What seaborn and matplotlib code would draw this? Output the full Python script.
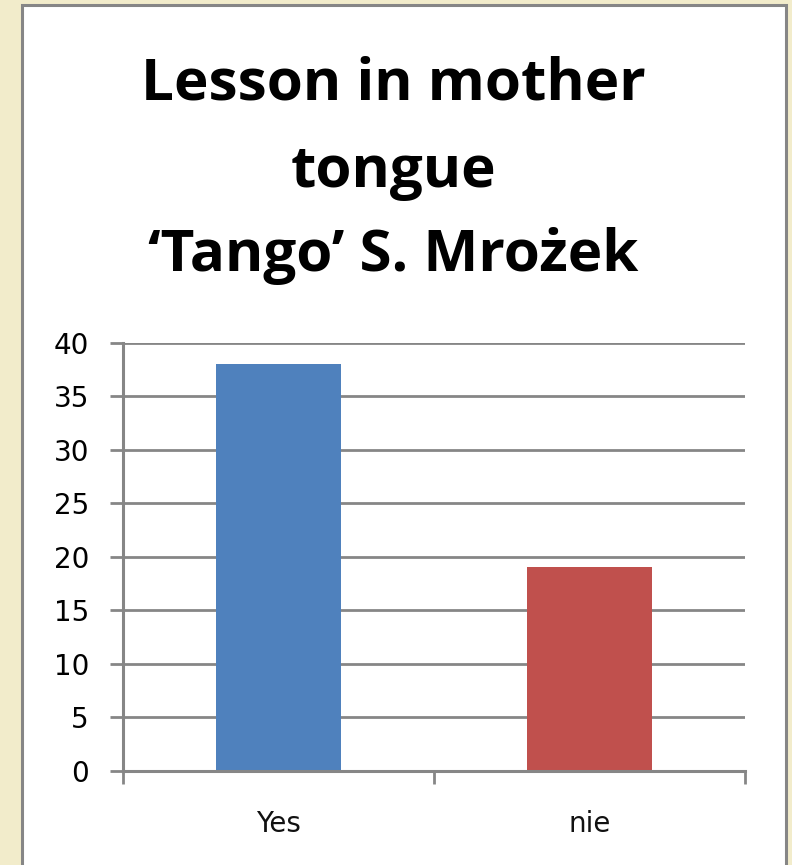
import seaborn as sns
import pandas as pd
import matplotlib.pyplot as plt
from matplotlib.patches import Rectangle

# data
answers = ['Yes', 'nie']
counts = [38, 19]
bar_colors = ['#4F81BD', '#C0504D']
title_lines = ['Lesson in mother', 'tongue', '\u2018Tango\u2019 S. Mro\u017cek']
y_ticks = [0, 5, 10, 15, 20, 25, 30, 35, 40]

df = pd.DataFrame({'answer': answers, 'count': counts})

sns.set_theme(style='white')
plt.rcParams['font.family'] = ['DejaVu Sans']

grey = '#868686'
fig = plt.figure(figsize=(7.92, 8.65), dpi=100)
fig.patch.set_facecolor('#F2ECCB')

# white chart frame with grey border
frame = Rectangle((22 / 792, -0.05), (786 - 22) / 792, 1.05 - 5 / 865,
                  transform=fig.transFigure, facecolor='white',
                  edgecolor=grey, linewidth=2.2, zorder=-10)
fig.patches.append(frame)

ax = fig.add_axes([123 / 792, (865 - 771) / 865, (745 - 123) / 792, (771 - 342.5) / 865])
ax.patch.set_alpha(0)

sns.barplot(data=df, x='answer', y='count', hue='answer', palette=bar_colors,
            saturation=1, width=0.4, linewidth=0, legend=False, ax=ax, zorder=3)

ax.set_ylim(0, 40)
ax.set_xlim(-0.5, 1.5)
ax.set_yticks(y_ticks)
ax.set_xticks([-0.5, 0.5, 1.5])
ax.set_xticklabels([])
ax.set_xticks([0, 1], minor=True)
ax.set_xticklabels(answers, minor=True)
ax.set(xlabel=None, ylabel=None)

for y in y_ticks[1:]:
    ax.axhline(y, color=grey, linewidth=2.0, zorder=1)

for s in ['top', 'right']:
    ax.spines[s].set_visible(False)
for s in ['left', 'bottom']:
    ax.spines[s].set_color(grey)
    ax.spines[s].set_linewidth(2.2)
    ax.spines[s].set_zorder(4)

ax.tick_params(axis='y', which='major', direction='out', length=9.5, width=2.0,
               color=grey, labelsize=20, labelcolor='black', pad=15, left=True)
ax.tick_params(axis='x', which='major', direction='out', length=9, width=2.0,
               color=grey, bottom=True)
ax.tick_params(axis='x', which='minor', length=0, labelsize=20,
               labelcolor='#111111', pad=28)

title_y = [100, 187, 271]
for line, yb in zip(title_lines, title_y):
    fig.text(0.497, 1 - yb / 865, line, ha='center', va='baseline',
             fontsize=42, fontweight='bold', family=['Open Sans', 'DejaVu Sans'],
             color='black')

fig.savefig('out.png', dpi=100)
